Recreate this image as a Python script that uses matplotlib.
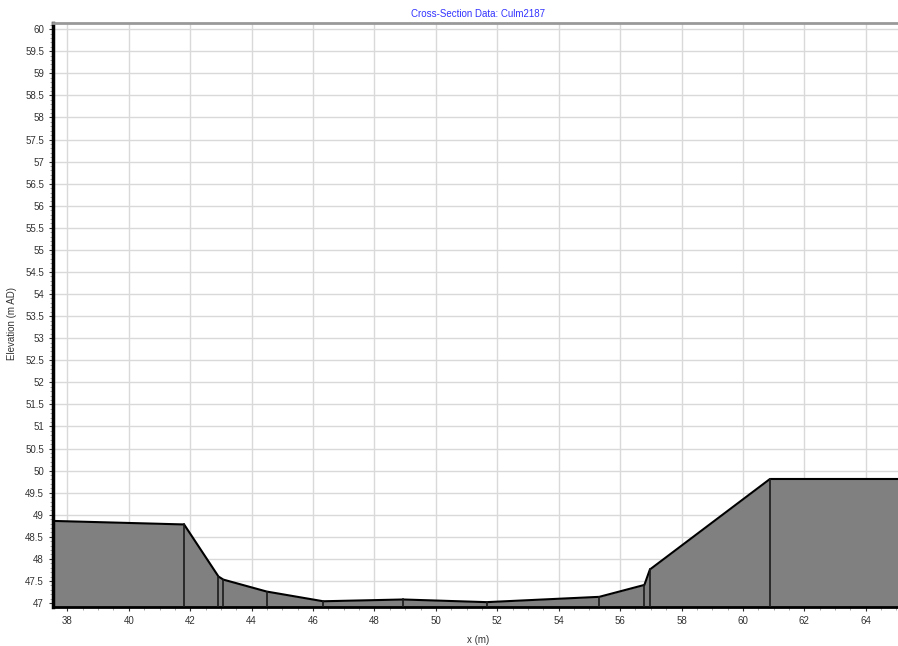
import matplotlib
matplotlib.use("Agg")
from matplotlib import pyplot as plt
from matplotlib.ticker import MultipleLocator, FuncFormatter
import numpy as np

plt.rcParams['font.family'] = ['Liberation Sans', 'DejaVu Sans']

# cross-section points (chainage, elevation)
chainage = [37.53, 41.80, 42.92, 43.08, 44.49, 46.33, 48.94, 51.65, 55.32, 56.79, 56.97, 60.88, 65.05]
elevation = [48.86, 48.78, 47.60, 47.53, 47.26, 47.04, 47.08, 47.02, 47.14, 47.41, 47.76, 49.81, 49.81]

title = "Cross-Section Data: Culm2187"
xlabel = "x (m)"
ylabel = "Elevation (m AD)"

fig = plt.figure(figsize=(8.98, 6.46), dpi=100)
ax = fig.add_axes([53/898, 39/646, 1 - 53/898, (607-23)/646])

ybot = 46.91
ax.fill_between(chainage, elevation, ybot, color='#808080', lw=0, zorder=2)
ax.plot(chainage, elevation, color='black', lw=1.5, zorder=3)
for x, y in zip(chainage[1:-1], elevation[1:-1]):
    ax.plot([x, x], [ybot, y], color='#1a1a1a', lw=1.2, zorder=3)

ax.set_xlim(37.53, 65.05)
ax.set_ylim(ybot, 60.14)

ax.xaxis.set_major_locator(MultipleLocator(2))
ax.xaxis.set_minor_locator(MultipleLocator(0.5))
ax.yaxis.set_major_locator(MultipleLocator(0.5))
ax.yaxis.set_minor_locator(MultipleLocator(0.1))
ax.yaxis.set_major_formatter(FuncFormatter(lambda v, p: ('%g' % v)))

ax.grid(True, which='major', color='#d9d9d9', lw=1, zorder=0)
ax.set_axisbelow(True)

ax.tick_params(which='both', labelsize=7, colors='#333333', direction='out')
ax.tick_params(which='major', length=3)
ax.tick_params(which='minor', length=2, color='#999999')

ax.spines['left'].set_linewidth(2.5)
ax.spines['left'].set_color('black')
ax.spines['bottom'].set_linewidth(2)
ax.spines['bottom'].set_color('black')
ax.spines['top'].set_linewidth(2)
ax.spines['top'].set_color('#999999')
ax.spines['right'].set_visible(False)

fig.text(478/898, 1 - 14/646, title, color='#3333ff', fontsize=7, ha='center', va='center')
fig.text(478/898, 1 - 640/646, xlabel, color='#333333', fontsize=7, ha='center', va='center')
fig.text(12/898, 0.5, ylabel, color='#333333', fontsize=7, ha='center', va='center', rotation=90)

fig.savefig("out.png", dpi=100)
